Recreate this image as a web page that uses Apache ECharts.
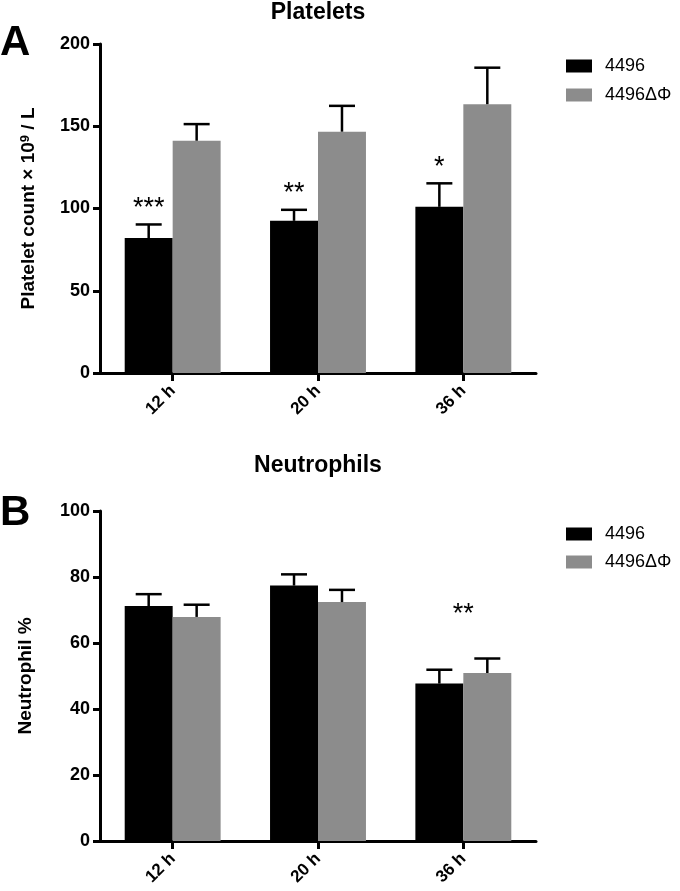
<!DOCTYPE html>
<html>
<head>
<meta charset="utf-8">
<script src="https://cdn.jsdelivr.net/npm/echarts@6/dist/echarts.min.js"></script>
<style>
html,body{margin:0;padding:0;background:#fff;}
#chart{width:680px;height:891px;}
</style>
</head>
<body>
<div id="chart"></div>
<script>
// ---- data ----
var categories = ['12 h', '20 h', '36 h'];
var seriesNames = ['4496', '4496ΔΦ'];

var plateletWT = [82, 92.5, 101];
var plateletWTErr = [8.3, 6.7, 14.3];
var plateletMut = [141.2, 146.7, 163.4];
var plateletMutErr = [10.1, 15.7, 22.2];
var plateletSig = ['***', '**', '*'];

var neutroWT = [71.2, 77.4, 47.7];
var neutroWTErr = [3.6, 3.4, 4.2];
var neutroMut = [67.9, 72.4, 50.9];
var neutroMutErr = [3.7, 3.7, 4.4];
var neutroSig = ['', '', '**'];

var plateletTicks = [0, 50, 100, 150, 200];
var neutroTicks = [0, 20, 40, 60, 80, 100];

// ---- styling ----
var FONT = '"Liberation Sans", Arial, Helvetica, sans-serif';
var BLACK = '#000000';
var GRAY = '#8c8c8c';
var BAR_FRAC = 0.33;

function errData(means, errs) {
  return means.map(function (m, i) { return [i, m, m + errs[i]]; });
}

function errRender(side) {
  return function (params, api) {
    var idx = api.value(0);
    var base = api.coord([idx, api.value(1)]);
    var top = api.coord([idx, api.value(2)]);
    var band = api.size([1, 0])[0];
    var bw = band * BAR_FRAC;
    var x = base[0] + side * bw / 2;
    var cap = 13;
    return {
      type: 'group',
      children: [
        { type: 'line', shape: { x1: x, y1: base[1], x2: x, y2: top[1] }, style: { stroke: '#000', lineWidth: 2.5 } },
        { type: 'line', shape: { x1: x - cap, y1: top[1], x2: x + cap, y2: top[1] }, style: { stroke: '#000', lineWidth: 2.5 } }
      ]
    };
  };
}

function sigData(sig, wtMeans, wtErrs, mutMeans, mutErrs) {
  return sig.map(function (s, i) {
    return [i, wtMeans[i] + wtErrs[i], mutMeans[i] + mutErrs[i]];
  });
}

var sigLookup = { A: plateletSig, B: neutroSig };

function sigRender(mode) {
  return function (params, api) {
    var idx = api.value(0);
    var txt = sigLookup[mode][idx];
    if (!txt) return null;
    var band = api.size([1, 0])[0];
    var bw = band * BAR_FRAC;
    var p, x, y;
    if (mode === 'A') {
      p = api.coord([idx, api.value(1)]);
      x = p[0] - bw / 2;
      y = p[1] - 16;
    } else {
      var hi = Math.max(api.value(1), api.value(2));
      p = api.coord([idx, hi]);
      x = p[0];
      y = p[1] - 44;
    }
    return {
      type: 'text',
      style: { text: txt, x: x, y: y, align: 'center', verticalAlign: 'middle', fontFamily: FONT, fontSize: 27, fill: '#000' }
    };
  };
}

function yAxis(gridIndex, max, interval, name, gap) {
  return {
    type: 'value', gridIndex: gridIndex, min: 0, max: max, interval: interval,
    name: name, nameLocation: 'middle', nameGap: gap,
    nameTextStyle: {
      fontFamily: FONT, fontWeight: 'bold', fontSize: 19, color: '#000',
      rich: {
        sup: { fontFamily: FONT, fontWeight: 'bold', fontSize: 13, color: '#000', verticalAlign: 'top', padding: [0, 0, 6, 0] }
      }
    },
    axisLine: { show: true, lineStyle: { color: '#000', width: 3 } },
    axisTick: { show: true, length: 7, lineStyle: { color: '#000', width: 3 } },
    axisLabel: { fontFamily: FONT, fontWeight: 'bold', fontSize: 18, color: '#000', margin: 10 },
    splitLine: { show: false }
  };
}

function xAxis(gridIndex) {
  return {
    type: 'category', gridIndex: gridIndex, data: categories,
    axisLine: { show: true, lineStyle: { color: '#000', width: 3 } },
    axisTick: { show: true, alignWithLabel: true, length: 8, lineStyle: { color: '#000', width: 3 } },
    axisLabel: { rotate: 45, fontFamily: FONT, fontWeight: 'bold', fontSize: 17, color: '#000', margin: 15 }
  };
}

function legend(top, gap) {
  return {
    data: seriesNames, orient: 'vertical', left: 561, top: top,
    icon: 'rect', itemWidth: 26, itemHeight: 13, itemGap: gap,
    textStyle: { fontFamily: FONT, fontSize: 18, color: '#000', padding: [0, 0, 0, 8] }
  };
}

var titleStyle = { fontFamily: FONT, fontWeight: 'bold', fontSize: 23, color: '#000' };
var letterStyle = { fontFamily: FONT, fontWeight: 'bold', fontSize: 42, color: '#000' };

var option = {
  animation: false,
  backgroundColor: '#fff',
  title: [
    { text: 'Platelets', left: 318, top: 1, textAlign: 'center', textStyle: titleStyle, padding: 0 },
    { text: 'Neutrophils', left: 318, top: 454, textAlign: 'center', textStyle: titleStyle, padding: 0 },
    { text: 'A', left: 0, top: 22, textStyle: letterStyle, padding: 0 },
    { text: 'B', left: 0, top: 492, textStyle: letterStyle, padding: 0 }
  ],
  legend: [legend(52, 11), legend(520, 10)],
  grid: [
    { left: 100, width: 436, top: 44, height: 329 },
    { left: 100, width: 436, top: 511, height: 330 }
  ],
  xAxis: [xAxis(0), xAxis(1)],
  yAxis: [
    yAxis(0, 200, 50, 'Platelet count × 10{sup|9} / L', 62),
    yAxis(1, 100, 20, 'Neutrophil %', 65)
  ],
  series: [
    { name: seriesNames[0], type: 'bar', xAxisIndex: 0, yAxisIndex: 0, data: plateletWT, barWidth: '33%', barGap: '0%', itemStyle: { color: BLACK } },
    { name: seriesNames[1], type: 'bar', xAxisIndex: 0, yAxisIndex: 0, data: plateletMut, barWidth: '33%', barGap: '0%', itemStyle: { color: GRAY } },
    { name: seriesNames[0], type: 'bar', xAxisIndex: 1, yAxisIndex: 1, data: neutroWT, barWidth: '33%', barGap: '0%', itemStyle: { color: BLACK } },
    { name: seriesNames[1], type: 'bar', xAxisIndex: 1, yAxisIndex: 1, data: neutroMut, barWidth: '33%', barGap: '0%', itemStyle: { color: GRAY } },
    { type: 'custom', xAxisIndex: 0, yAxisIndex: 0, renderItem: errRender(-1), data: errData(plateletWT, plateletWTErr), encode: { x: 0, y: [1, 2] }, z: 5, silent: true },
    { type: 'custom', xAxisIndex: 0, yAxisIndex: 0, renderItem: errRender(1), data: errData(plateletMut, plateletMutErr), encode: { x: 0, y: [1, 2] }, z: 5, silent: true },
    { type: 'custom', xAxisIndex: 1, yAxisIndex: 1, renderItem: errRender(-1), data: errData(neutroWT, neutroWTErr), encode: { x: 0, y: [1, 2] }, z: 5, silent: true },
    { type: 'custom', xAxisIndex: 1, yAxisIndex: 1, renderItem: errRender(1), data: errData(neutroMut, neutroMutErr), encode: { x: 0, y: [1, 2] }, z: 5, silent: true },
    { type: 'custom', xAxisIndex: 0, yAxisIndex: 0, renderItem: sigRender('A'), data: sigData(plateletSig, plateletWT, plateletWTErr, plateletMut, plateletMutErr), encode: { x: 0, y: [1, 2] }, z: 6, silent: true },
    { type: 'custom', xAxisIndex: 1, yAxisIndex: 1, renderItem: sigRender('B'), data: sigData(neutroSig, neutroWT, neutroWTErr, neutroMut, neutroMutErr), encode: { x: 0, y: [1, 2] }, z: 6, silent: true }
  ]
};

var chart = echarts.init(document.getElementById('chart'), null, { renderer: 'canvas' });
chart.setOption(option);
</script>
</body>
</html>
